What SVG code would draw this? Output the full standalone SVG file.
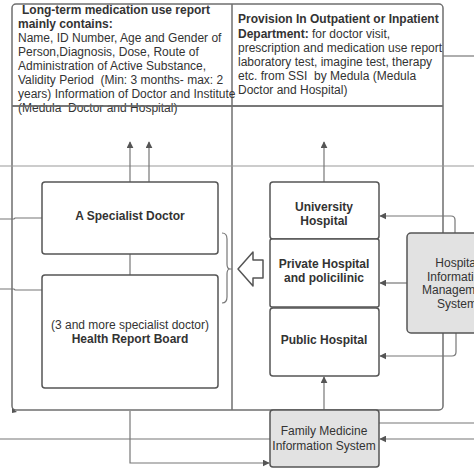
<svg xmlns="http://www.w3.org/2000/svg" width="474" height="474" viewBox="0 0 474 474">
<style>
  text { font-family: "Liberation Sans", Arial, sans-serif; font-size: 12px; fill: #333; }
  .b { font-weight: bold; }
  .c { text-anchor: middle; }
  .frame { fill: none; stroke: #6f6f6f; stroke-width: 1.5; }
  .conn { fill: none; stroke: #777; stroke-width: 1.2; }
  .thin { fill: none; stroke: #999; stroke-width: 1; }
  .box { fill: #fff; stroke: #555; stroke-width: 1.5; }
  .gbox { fill: #e2e2e2; stroke: #555; stroke-width: 1.5; }
</style>
<defs>
  <marker id="ah" viewBox="0 0 10 10" refX="9" refY="5" markerWidth="7" markerHeight="7" orient="auto" markerUnits="userSpaceOnUse">
    <path d="M0,0 L10,5 L0,10 z" fill="#555"/>
  </marker>
</defs>
<rect width="474" height="474" fill="#fff"/>

<g id="frame">
  <rect class="frame" x="12" y="4" width="431" height="406" rx="4"/>
  <line class="frame" x1="232" y1="4" x2="232" y2="410"/>
  <line class="frame" x1="12" y1="106" x2="443" y2="106"/>
  <path d="M12,408 L12,413 L17,412 z" fill="#555"/>
</g>

<g id="connectors">
  <line class="thin" x1="0" y1="166" x2="474" y2="166"/>
  <line class="conn" x1="443" y1="56" x2="474" y2="56"/>
  <path class="conn" d="M130,182 L130,142" marker-end="url(#ah)"/>
  <path class="conn" d="M130,275 L130,209 Q130,207 132,207 L147,207 Q149,207 149,205 L149,142" marker-end="url(#ah)"/>
  <path class="conn" d="M324,182 L324,142" marker-end="url(#ah)"/>
  <path class="conn" d="M0,219 L14,219 L15,218 L42,218"/>
  <path class="conn" d="M0,289 L14,289 L15,290 L42,290"/>
  <path class="conn" d="M455,233 L455,220 Q455,216 451,216 L380,216" marker-end="url(#ah)"/>
  <path class="conn" d="M407,283 L380,283" marker-end="url(#ah)"/>
  <path class="conn" d="M456,333 L456,352 Q456,356 452,356 L380,356" marker-end="url(#ah)"/>
  <path class="conn" d="M324,410 L324,377" marker-end="url(#ah)"/>
  <line class="conn" x1="0" y1="439" x2="270" y2="439"/>
  <path class="conn" d="M130,411 L130,463 L269,463" marker-end="url(#ah)"/>
  <line class="conn" x1="379" y1="423" x2="474" y2="423"/>
  <path class="conn" d="M474,439 L380,439" marker-end="url(#ah)"/>
  <path class="conn" d="M222,233 Q227,233 227,239 L227,264 Q227,269 230,269 L232,269 M230,269 Q227,269 227,274 L227,297 Q227,303 222,303"/>
</g>

<g id="text-longterm">
  <text class="b" x="22" y="14">Long-term medication use report</text>
  <text class="b" x="18" y="28">mainly contains:</text>
  <text x="18" y="42">Name, ID Number, Age and Gender of</text>
  <text x="18" y="56">Person,Diagnosis, Dose, Route of</text>
  <text x="18" y="70">Administration of Active Substance,</text>
  <text x="18" y="84" xml:space="preserve">Validity Period  (Min: 3 months- max: 2</text>
  <text x="18" y="98">years) Information of Doctor and Institute</text>
  <text x="18" y="112" xml:space="preserve">(Medula  Doctor and Hospital)</text>
</g>

<g id="text-provision">
  <text class="b" x="238" y="23">Provision In Outpatient or Inpatient</text>
  <text x="238" y="37.5"><tspan class="b">Department:</tspan> for doctor visit,</text>
  <text x="238" y="51.5">prescription and medication use report</text>
  <text x="238" y="65.5">laboratory test, imagine test, therapy</text>
  <text x="238" y="79.5" xml:space="preserve">etc. from SSI  by Medula (Medula</text>
  <text x="238" y="94">Doctor and Hospital)</text>
</g>

<g id="line-frame-overlay">
  <line class="frame" x1="12" y1="106" x2="443" y2="106"/>
</g>

<g id="specialist">
  <rect class="box" x="42" y="182" width="176" height="72" rx="3"/>
  <text class="b c" x="130" y="220">A Specialist Doctor</text>
</g>

<g id="board">
  <rect class="box" x="42" y="275" width="176" height="113" rx="3"/>
  <text class="c" x="130" y="329">(3 and more specialist doctor)</text>
  <text class="b c" x="130" y="343">Health Report Board</text>
</g>

<g id="block-arrow">
  <path d="M238,269 L253,252 L253,260 L263,260 L263,278 L253,278 L253,286 Z" fill="#fff" stroke="#555" stroke-width="1.5" stroke-linejoin="round"/>
</g>

<g id="university">
  <rect class="box" x="270" y="182" width="109" height="57" rx="3"/>
  <text class="b c" x="324" y="211">University</text>
  <text class="b c" x="324" y="225">Hospital</text>
</g>

<g id="private">
  <rect class="box" x="270" y="239" width="109" height="68" rx="2"/>
  <text class="b c" x="324" y="268">Private Hospital</text>
  <text class="b c" x="324" y="282">and policilinic</text>
</g>

<g id="public">
  <rect class="box" x="270" y="308" width="109" height="68" rx="3"/>
  <text class="b c" x="324" y="344">Public Hospital</text>
</g>

<g id="hims">
  <rect class="gbox" x="407" y="233" width="100" height="100" rx="4"/>
  <text class="c" x="457" y="267">Hospital</text>
  <text class="c" x="457" y="281">Information</text>
  <text class="c" x="457" y="294">Management</text>
  <text class="c" x="457" y="308">System</text>
</g>

<g id="fmis">
  <rect class="gbox" x="270" y="410" width="109" height="57" rx="3"/>
  <text class="c" x="324" y="435">Family Medicine</text>
  <text class="c" x="324" y="450">Information System</text>
</g>
</svg>
